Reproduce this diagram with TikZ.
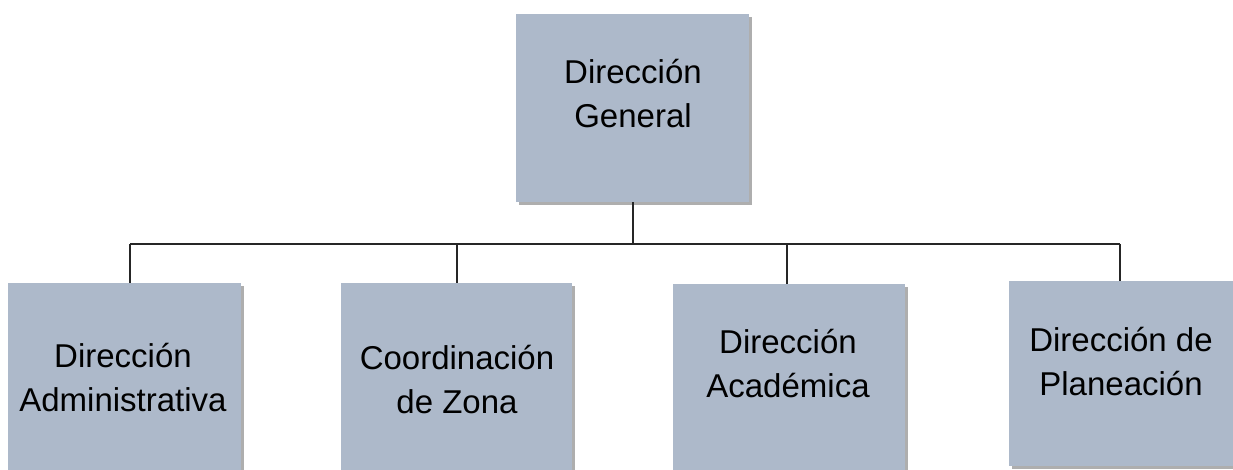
\documentclass[tikz,border=0pt]{standalone}
\usepackage{fontspec}
\setmainfont{Liberation Sans}
\usetikzlibrary{shadows}
\definecolor{boxfill}{HTML}{ADB9CA}
\definecolor{shadowc}{HTML}{9A9A9A}
\tikzset{
  orgbox/.style={draw=none, fill=boxfill, inner sep=0pt, anchor=north west,
    drop shadow={shadow xshift=3pt, shadow yshift=-3pt, fill=shadowc, opacity=0.8}},
  orgtext/.style={align=center, inner sep=0pt, font=\fontsize{33}{44}\selectfont, text=black},
  conn/.style={draw=black!85, line width=1.1pt}
}
\begin{document}
\begin{tikzpicture}[x=1pt,y=1pt]
\useasboundingbox (0,0) rectangle (1233,-470);
\clip (0,0) rectangle (1233,-470);
\fill[white] (0,0) rectangle (1233,-470);
% boxes
\node[orgbox, minimum width=233pt, minimum height=188pt] (top) at (516,-14) {};
\node[orgbox, minimum width=233pt, minimum height=200pt] (b1) at (8,-283) {};
\node[orgbox, minimum width=231pt, minimum height=200pt] (b2) at (341,-283) {};
\node[orgbox, minimum width=232pt, minimum height=200pt] (b3) at (673,-284) {};
\node[orgbox, minimum width=224pt, minimum height=185pt] (b4) at (1009,-281) {};
% texts
\node[orgtext] (ttop) at (633,-93.5) {Dirección\\General};
\node[orgtext] (t1) at (123,-377.5) {Dirección\\Administrativa};
\node[orgtext] (t2) at (457,-379.5) {Coordinación\\de Zona};
\node[orgtext] (t3) at (788,-364) {Dirección\\Académica};
\node[orgtext] (t4) at (1121,-361.5) {Dirección de\\Planeación};
% connectors
\coordinate (bus) at (633,-244);
\coordinate (j1) at (130,-244);
\coordinate (j2) at (457,-244);
\coordinate (j3) at (787,-244);
\coordinate (j4) at (1120,-244);
\draw[conn] (top.south -| bus) -- (bus);
\draw[conn] (j1) -- (j4);
\draw[conn] (j1) -- (j1 |- b1.north);
\draw[conn] (j2) -- (j2 |- b2.north);
\draw[conn] (j3) -- (j3 |- b3.north);
\draw[conn] (j4) -- (j4 |- b4.north);
\end{tikzpicture}
\end{document}
